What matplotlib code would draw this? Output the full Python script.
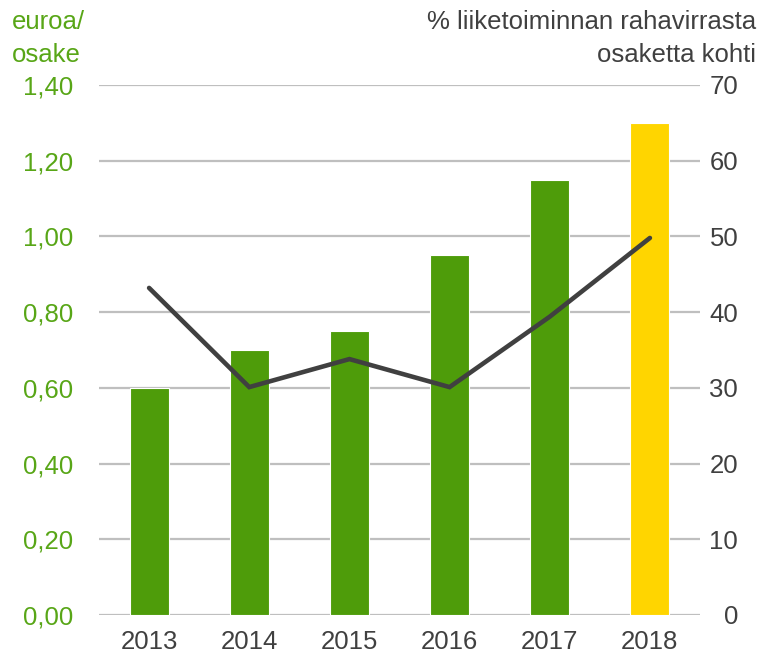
import matplotlib
matplotlib.use("Agg")
import matplotlib.pyplot as plt
import numpy as np

years = ["2013", "2014", "2015", "2016", "2017", "2018"]
dividend = [0.60, 0.70, 0.75, 0.95, 1.15, 1.30]
pct_cashflow = [43.2, 30.1, 33.8, 30.1, 39.4, 49.8]
bar_colors = ["#4E9C0A", "#4E9C0A", "#4E9C0A", "#4E9C0A", "#4E9C0A", "#FFD500"]
left_ticks = [0.0, 0.2, 0.4, 0.6, 0.8, 1.0, 1.2, 1.4]
left_labels = ["0,00", "0,20", "0,40", "0,60", "0,80", "1,00", "1,20", "1,40"]
right_ticks = [0, 10, 20, 30, 40, 50, 60, 70]

plt.rcParams['font.family'] = ['Liberation Sans', 'DejaVu Sans']
FS = 18.5
GREEN_TXT = "#58A617"
GRAY = "#404040"

W, H = 759, 656
fig = plt.figure(figsize=(W / 100, H / 100), dpi=100)
ax = fig.add_axes([99 / W, 1 - 615 / H, (700 - 99) / W, (615 - 85) / H])
x = np.arange(len(years))
ax.bar(x, dividend, width=0.39, color=bar_colors, edgecolor="white", linewidth=0.8, zorder=2)
ax.set_xlim(-0.5, len(years) - 0.5)
ax.set_ylim(0, 1.4)
ax.set_yticks(left_ticks)
ax.set_yticklabels(left_labels)
ax.set_xticks(x)
ax.set_xticklabels(years)
ax.yaxis.grid(True, color="#BFBFBF", linewidth=1.6, zorder=0)
ax.set_axisbelow(True)
for s in ax.spines.values():
    s.set_visible(False)
ax.tick_params(axis="y", length=0, pad=18.5, labelsize=FS, labelcolor=GREEN_TXT)
ax.tick_params(axis="x", length=0, pad=11, labelsize=FS, labelcolor=GRAY)

ax2 = ax.twinx()
ax2.plot(x, pct_cashflow, color=GRAY, linewidth=3.3, solid_capstyle="round",
         solid_joinstyle="miter", zorder=3)
ax2.set_ylim(0, 70)
ax2.set_yticks(right_ticks)
for s in ax2.spines.values():
    s.set_visible(False)
ax2.tick_params(axis="y", length=0, pad=27.5, labelsize=FS, labelcolor=GRAY)
for lab in ax2.get_yticklabels():
    lab.set_horizontalalignment("right")

fig.text(12 / W, 1 - 22 / H, "euroa/", fontsize=FS, color=GREEN_TXT, ha="left", va="center")
fig.text(12 / W, 1 - 55 / H, "osake", fontsize=FS, color=GREEN_TXT, ha="left", va="center")
fig.text(756 / W, 1 - 22 / H, "% liiketoiminnan rahavirrasta", fontsize=FS, color=GRAY, ha="right", va="center")
fig.text(756 / W, 1 - 55 / H, "osaketta kohti", fontsize=FS, color=GRAY, ha="right", va="center")

fig.savefig("out.png", dpi=100)
